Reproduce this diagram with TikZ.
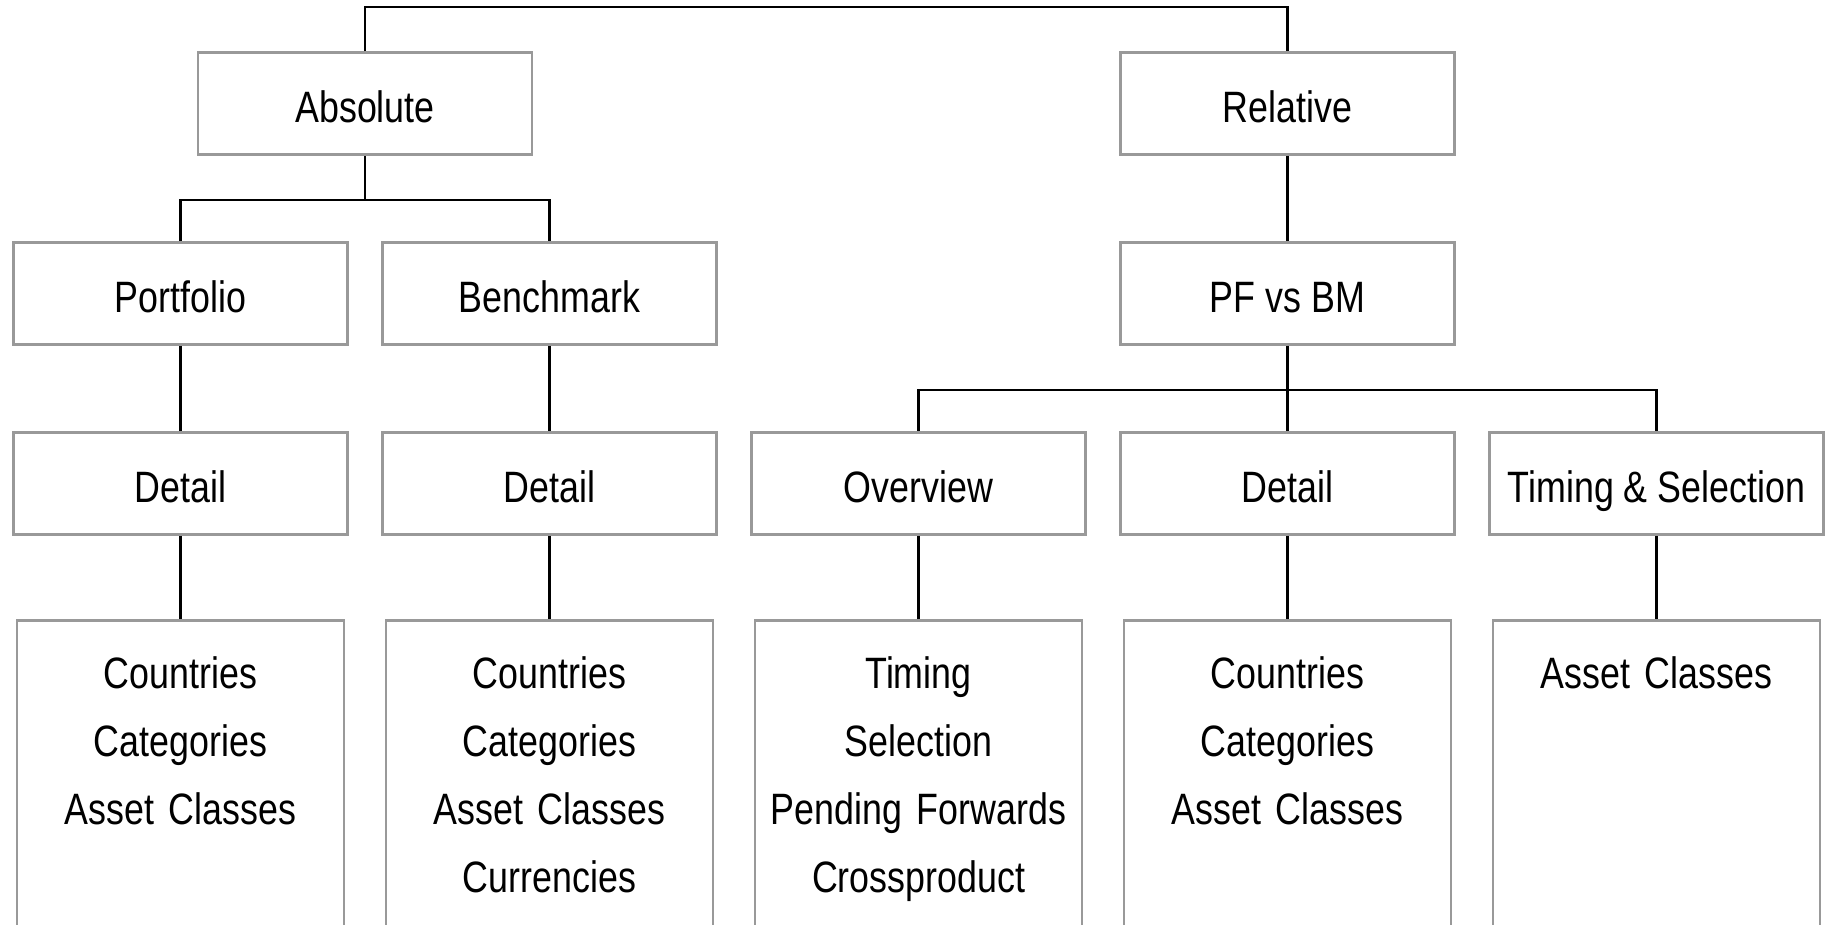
\documentclass[tikz,border=0pt]{standalone}
\usepackage{fontspec}
\setmainfont[FakeStretch=0.815]{Liberation Sans}
\usetikzlibrary{positioning,calc}
\tikzset{
  levelbox/.style={draw=black!40,line width=0.8pt,align=center,inner sep=0pt,
    minimum width=3.34cm,minimum height=1.02cm,text height=0.55cm,text depth=0.16cm,
    font=\fontsize{12.5}{19.35}\selectfont},
  listbox/.style={draw=black!40,line width=0.8pt,align=center,text width=3.27cm,
    inner xsep=0pt,inner ysep=0pt,text height=0.68cm,text depth=2.9cm,
    font=\fontsize{12.5}{19.35}\selectfont},
  treeline/.style={draw=black,line width=0.7pt}
}
\begin{document}
\begin{tikzpicture}[node distance=0.852cm and 0.322cm]
  \path[use as bounding box,clip] (0,0) rectangle (18.27,-9.25);
  % detail level
  \node[levelbox] (pfdetail) at (1.805,-4.835) {Detail};
  \node[levelbox,right=of pfdetail] (bmdetail) {Detail};
  \node[levelbox,right=of bmdetail] (overview) {Overview};
  \node[levelbox,right=of overview] (reldetail) {Detail};
  \node[levelbox,right=of reldetail] (timesel) {Timing \& Selection};
  % upper levels
  \node[levelbox,above=of pfdetail] (portfolio) {Portfolio};
  \node[levelbox,above=of bmdetail] (benchmark) {Benchmark};
  \node[levelbox,above=of reldetail] (pfvsbm) {PF vs BM};
  \node[levelbox,above=of {$(portfolio.north)!0.5!(benchmark.north)$}] (absolute) {Absolute};
  \node[levelbox,above=of pfvsbm] (relative) {Relative};
  % lists
  \node[listbox,below=0.83cm of pfdetail] (pflist) {Countries\\Categories\\Asset Classes};
  \node[listbox,below=0.83cm of bmdetail] (bmlist) {Countries\\Categories\\Asset Classes\\Currencies};
  \node[listbox,below=0.83cm of overview] (ovlist) {Timing\\Selection\\Pending Forwards\\Crossproduct};
  \node[listbox,below=0.83cm of reldetail] (rellist) {Countries\\Categories\\Asset Classes};
  \node[listbox,below=0.83cm of timesel] (tslist) {Asset Classes};
  % connectors
  \draw[treeline] (absolute.north) -- ++(0,0.44) -| (relative.north);
  \draw[treeline] (absolute.south) -- ++(0,-0.44) coordinate (absfork)
    -| (portfolio.north) (absfork) -| (benchmark.north);
  \draw[treeline] (relative) -- (pfvsbm);
  \draw[treeline] (pfvsbm.south) -- ++(0,-0.44) coordinate (relfork)
    -| (overview.north) (relfork) -| (timesel.north) (relfork) -- (reldetail.north);
  \draw[treeline] (portfolio) -- (pfdetail);
  \draw[treeline] (benchmark) -- (bmdetail);
  \draw[treeline] (pfdetail) -- (pflist);
  \draw[treeline] (bmdetail) -- (bmlist);
  \draw[treeline] (overview) -- (ovlist);
  \draw[treeline] (reldetail) -- (rellist);
  \draw[treeline] (timesel) -- (tslist);
\end{tikzpicture}
\end{document}
